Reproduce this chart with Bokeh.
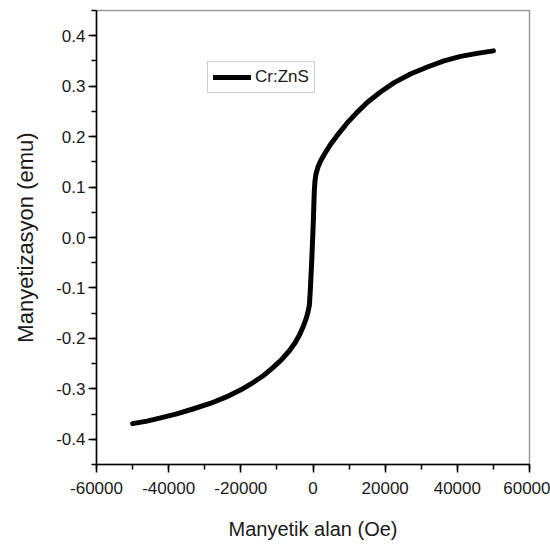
from bokeh.plotting import figure
from bokeh.models import Range1d, SingleIntervalTicker, Legend, LegendItem, ColumnDataSource, PrintfTickFormatter
from bokeh.embed import file_html
from bokeh.resources import INLINE

# Data
field_oe = [-50000, -46000, -42500, -38000, -33300, -28500, -24000, -20000, -16700,
            -13800, -11100, -8700, -6500, -5000, -3800, -2800, -1900, -1400, -1000,
            -750, -550, -300, -100, 100, 250, 370, 550, 830, 1400, 2200, 3400, 5000,
            7100, 9600, 12200, 15100, 18600, 22500, 27000, 31700, 36300, 40900,
            45500, 50000]
magnetization = [-0.369, -0.364, -0.358, -0.350, -0.340, -0.329, -0.316, -0.302, -0.288,
                 -0.274, -0.258, -0.242, -0.224, -0.209, -0.194, -0.178, -0.161, -0.148, -0.134,
                 -0.105, -0.075, -0.038, -0.002, 0.033, 0.068, 0.093, 0.112, 0.126, 0.140, 0.153, 0.168, 0.186,
                 0.206, 0.228, 0.248, 0.268, 0.288, 0.307, 0.324, 0.338, 0.350, 0.359,
                 0.365, 0.370]
series_name = "Cr:ZnS"
x_label = "Manyetik alan (Oe)"
y_label = "Manyetizasyon (emu)"

FONT = "Liberation Sans"

p = figure(width=550, height=545, output_backend="svg", toolbar_location=None,
           x_range=Range1d(-60000, 60000), y_range=Range1d(-0.45, 0.45),
           min_border_left=96, min_border_right=21, min_border_top=10, min_border_bottom=81)
p.grid.visible = False
p.outline_line_color = "#9a9a9a"
p.outline_line_width = 1.5
p.background_fill_color = "white"
p.border_fill_color = "white"

src = ColumnDataSource(dict(x=field_oe, y=magnetization))
r = p.line("x", "y", source=src, line_color="black", line_width=5, line_cap="round", line_join="round")

p.xaxis.ticker = SingleIntervalTicker(interval=20000, num_minor_ticks=2)
p.yaxis.ticker = SingleIntervalTicker(interval=0.1, num_minor_ticks=2)
p.xaxis.formatter = PrintfTickFormatter(format="%d")
p.yaxis.formatter = PrintfTickFormatter(format="%.1f")

for ax in (p.xaxis, p.yaxis):
    ax.axis_line_color = "black"
    ax.axis_line_width = 1.5
    ax.major_tick_line_color = "black"
    ax.minor_tick_line_color = "black"
    ax.major_tick_line_width = 1.5
    ax.minor_tick_line_width = 1.5
    ax.major_tick_in = 0
    ax.minor_tick_in = 0
    ax.major_tick_out = 8
    ax.minor_tick_out = 5
    ax.major_label_text_font = FONT
    ax.major_label_text_font_size = "17px"
    ax.major_label_text_color = "#1a1a1a"
    ax.axis_label_text_font = FONT
    ax.axis_label_text_font_style = "normal"
    ax.axis_label_text_color = "#1a1a1a"

p.xaxis.axis_label = x_label
p.yaxis.axis_label = y_label
p.xaxis.axis_label_text_font_size = "20px"
p.yaxis.axis_label_text_font_size = "22px"
p.xaxis.major_label_standoff = 9
p.xaxis.axis_label_standoff = 21
p.yaxis.major_label_standoff = 3
p.yaxis.axis_label_standoff = 15

legend = Legend(items=[LegendItem(label=series_name, renderers=[r])],
                location=(111, 371), orientation="vertical")
legend.label_text_font = FONT
legend.label_text_font_size = "17px"
legend.label_text_color = "#1a1a1a"
legend.border_line_color = "#9a9a9a"
legend.border_line_width = 1.5
legend.glyph_width = 38
legend.glyph_height = 20
legend.label_height = 20
legend.label_standoff = 4
legend.padding = 5
legend.spacing = 0
legend.margin = 0
legend.background_fill_alpha = 1
p.add_layout(legend)

open("out.html", "w").write(file_html(p, INLINE))
